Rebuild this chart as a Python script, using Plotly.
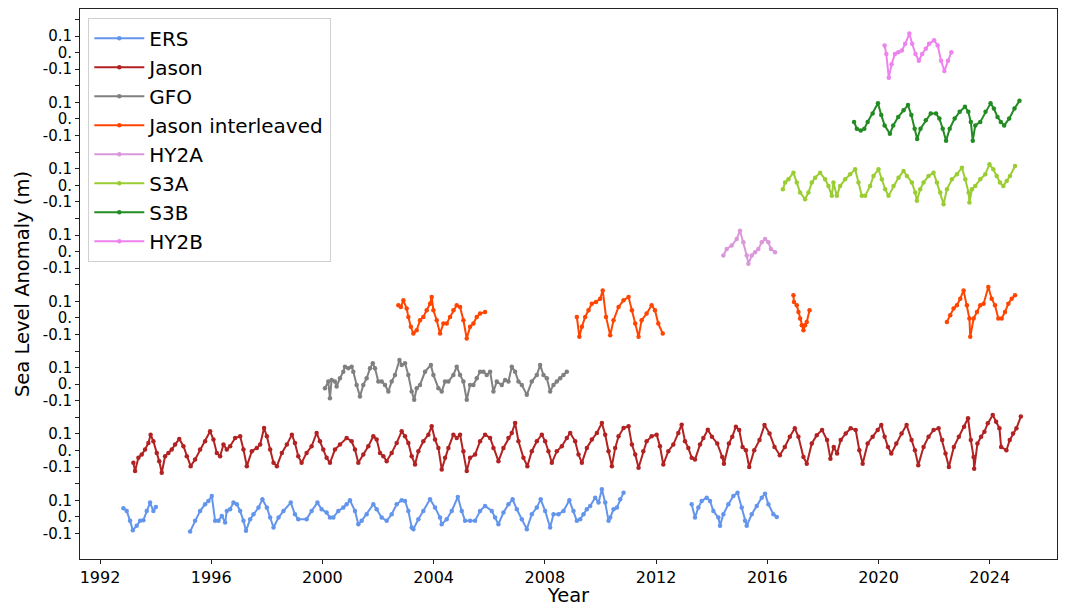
import plotly.graph_objects as go

# ---- data: (decimal year, sea level anomaly in m); None marks a data gap ----
ers = [(1992.84,0.052),(1992.96,0.036),(1993.08,-0.024),(1993.18,-0.080),(1993.32,-0.054),(1993.44,-0.024),(1993.56,-0.020),(1993.68,0.036),(1993.80,0.086),(1993.92,0.036),(1994.01,0.060),
       None,
       (1995.24,-0.088),(1995.42,-0.024),(1995.60,0.036),(1995.78,0.076),(1995.90,0.096),(1996.02,0.126),(1996.14,-0.024),(1996.26,-0.024),(1996.38,0.006),(1996.50,-0.034),(1996.56,0.036),(1996.68,0.046),(1996.80,0.086),(1996.92,0.076),(1997.04,0.036),(1997.16,-0.024),(1997.25,-0.084),(1997.40,-0.014),(1997.52,0.016),(1997.70,0.056),(1997.84,0.106),(1998.00,0.056),(1998.12,-0.004),(1998.24,-0.064),(1998.42,-0.004),(1998.60,0.036),(1998.86,0.086),(1999.01,0.016),(1999.13,-0.014),(1999.43,-0.014),(1999.61,0.036),(1999.82,0.086),(1999.97,0.046),(2000.15,0.026),(2000.27,-0.004),(2000.39,-0.004),(2000.57,0.036),(2000.75,0.056),(2000.87,0.076),(2000.99,0.100),(2001.17,0.036),(2001.29,-0.044),(2001.41,-0.024),(2001.59,0.016),(2001.83,0.076),(2001.95,0.046),(2002.13,-0.004),(2002.31,-0.024),(2002.49,0.016),(2002.67,0.076),(2002.85,0.100),(2002.97,0.096),(2003.09,0.036),(2003.21,-0.064),(2003.27,-0.074),(2003.45,-0.014),(2003.63,0.036),(2003.87,0.106),(2004.05,0.056),(2004.23,-0.004),(2004.29,-0.044),(2004.47,-0.014),(2004.65,0.036),(2004.87,0.120),(2005.01,0.036),(2005.13,-0.024),(2005.31,-0.024),(2005.49,-0.024),(2005.67,0.036),(2005.85,0.066),(2006.09,0.036),(2006.21,-0.004),(2006.33,-0.044),(2006.51,0.026),(2006.69,0.076),(2006.84,0.106),(2006.99,0.046),(2007.17,-0.014),(2007.35,-0.074),(2007.53,0.016),(2007.71,0.056),(2007.85,0.106),(2008.01,0.036),(2008.19,-0.064),(2008.31,0.016),(2008.49,0.016),(2008.67,0.036),(2008.88,0.100),(2009.03,0.036),(2009.15,-0.024),(2009.27,-0.014),(2009.39,0.016),(2009.51,0.046),(2009.63,0.066),(2009.81,0.116),(2009.93,0.086),(2010.05,0.166),(2010.17,0.086),(2010.29,-0.024),(2010.35,-0.004),(2010.47,0.046),(2010.59,0.056),(2010.71,0.106),(2010.83,0.146),
       None,
       (2013.28,0.076),(2013.40,-0.004),(2013.52,0.056),(2013.64,0.096),(2013.82,0.116),(2013.94,0.096),(2014.06,0.036),(2014.24,-0.004),(2014.30,-0.054),(2014.42,0.016),(2014.60,0.076),(2014.78,0.126),(2014.93,0.146),(2015.08,0.056),(2015.20,-0.024),(2015.26,-0.054),(2015.44,0.016),(2015.62,0.066),(2015.80,0.116),(2015.92,0.140),(2016.04,0.076),(2016.22,0.016),(2016.34,0.000)]

jason = [(1993.20,-0.074),(1993.26,-0.124),(1993.38,-0.044),(1993.50,-0.024),(1993.62,0.006),(1993.74,0.046),(1993.82,0.096),(1993.92,0.056),(1994.04,-0.014),(1994.13,-0.064),(1994.22,-0.134),(1994.34,-0.034),(1994.46,-0.014),(1994.58,0.006),(1994.70,0.036),(1994.85,0.070),(1995.00,0.026),(1995.12,-0.034),(1995.26,-0.094),(1995.42,-0.054),(1995.60,0.006),(1995.78,0.056),(1995.96,0.116),(1996.08,0.066),(1996.20,-0.014),(1996.32,-0.034),(1996.44,0.036),(1996.56,0.006),(1996.68,0.026),(1996.86,0.076),(1997.04,0.086),(1997.16,0.006),(1997.28,-0.094),(1997.46,-0.004),(1997.64,0.016),(1997.76,0.036),(1997.90,0.136),(1998.00,0.086),(1998.12,0.006),(1998.24,-0.074),(1998.36,-0.094),(1998.54,-0.014),(1998.72,0.036),(1998.90,0.096),(1999.01,0.046),(1999.13,-0.034),(1999.25,-0.074),(1999.43,-0.014),(1999.61,0.026),(1999.79,0.106),(1999.91,0.056),(2000.03,0.006),(2000.15,-0.044),(2000.27,-0.074),(2000.45,0.006),(2000.63,0.036),(2000.87,0.076),(2001.05,0.056),(2001.17,0.006),(2001.29,-0.074),(2001.47,-0.024),(2001.65,0.026),(2001.83,0.086),(2001.95,0.066),(2002.07,-0.014),(2002.19,-0.034),(2002.31,-0.064),(2002.49,-0.014),(2002.67,0.046),(2002.85,0.116),(2002.97,0.086),(2003.09,0.046),(2003.21,-0.034),(2003.33,-0.084),
         (2003.45,-0.004),(2003.63,0.056),(2003.81,0.096),(2003.93,0.146),(2004.05,0.066),(2004.17,0.016),(2004.29,-0.114),(2004.41,-0.044),(2004.53,0.016),(2004.71,0.096),(2004.83,0.076),(2004.95,0.096),(2005.07,-0.004),(2005.19,-0.124),(2005.31,-0.044),(2005.49,-0.024),(2005.67,0.056),(2005.85,0.096),(2006.03,0.076),(2006.15,0.016),(2006.33,-0.064),(2006.51,0.016),(2006.69,0.076),(2006.81,0.106),(2006.93,0.166),(2007.05,0.056),(2007.23,-0.044),(2007.37,-0.094),(2007.53,-0.004),(2007.71,0.056),(2007.89,0.096),(2008.01,0.056),(2008.13,-0.004),(2008.25,-0.074),(2008.43,-0.004),(2008.61,0.026),(2008.79,0.076),(2008.91,0.106),(2009.09,0.056),(2009.21,-0.024),(2009.33,-0.074),(2009.51,0.016),(2009.69,0.066),(2009.87,0.106),(2010.05,0.166),(2010.17,0.096),(2010.29,-0.004),(2010.41,-0.094),(2010.53,0.016),(2010.65,0.086),(2010.83,0.136),(2011.01,0.146),(2011.13,0.036),(2011.25,-0.024),(2011.37,-0.104),(2011.54,-0.004),(2011.66,0.056),(2011.84,0.086),(2012.02,0.096),(2012.14,0.026),(2012.26,-0.084),(2012.44,-0.004),(2012.62,0.036),(2012.80,0.106),(2012.92,0.156),(2013.04,0.056),(2013.16,0.016),(2013.28,-0.044),(2013.40,-0.054),(2013.58,0.036),(2013.70,0.076),(2013.86,0.126),
         (2014.01,0.083),(2014.20,0.043),(2014.38,-0.039),(2014.44,-0.079),(2014.62,0.043),(2014.74,0.083),(2014.87,0.144),(2014.99,0.124),(2015.11,0.022),(2015.23,0.002),(2015.35,-0.099),(2015.53,0.002),(2015.72,0.063),(2015.90,0.154),(2016.08,0.103),(2016.26,0.022),(2016.45,-0.028),(2016.63,0.022),(2016.81,0.083),(2016.99,0.134),(2017.12,0.083),(2017.30,-0.039),(2017.42,-0.079),(2017.60,0.043),(2017.78,0.093),(2017.97,0.124),(2018.15,0.063),(2018.27,-0.049),(2018.39,0.022),(2018.51,-0.018),(2018.64,0.063),(2018.82,0.103),(2019.00,0.134),(2019.18,0.124),(2019.31,0.002),(2019.43,-0.079),(2019.61,0.043),(2019.79,0.083),(2019.97,0.124),(2020.10,0.154),(2020.22,0.083),(2020.34,0.022),(2020.46,-0.018),(2020.64,0.043),(2020.83,0.103),(2021.01,0.154),(2021.19,0.063),(2021.31,0.002),(2021.43,-0.089),(2021.62,0.022),(2021.80,0.083),(2021.98,0.124),(2022.16,0.134),(2022.29,0.063),(2022.41,-0.018),(2022.53,-0.099),(2022.71,0.022),(2022.89,0.083),(2023.08,0.144),(2023.22,0.195),(2023.32,0.063),(2023.42,-0.039),(2023.44,-0.110),(2023.56,0.043),(2023.69,0.083),(2023.81,0.114),(2023.93,0.164),(2024.11,0.215),(2024.23,0.174),(2024.35,0.134),(2024.41,0.022),(2024.60,0.002),(2024.72,0.063),(2024.84,0.103),(2024.96,0.134),(2025.12,0.205)]

gfo = [(2000.09,-0.024),(2000.21,0.016),(2000.27,-0.084),(2000.33,0.026),(2000.45,0.016),(2000.51,-0.014),(2000.63,0.036),(2000.75,0.076),(2000.81,0.106),(2000.93,0.096),(2001.05,0.106),(2001.11,0.076),(2001.23,-0.004),(2001.35,-0.074),(2001.47,-0.004),(2001.59,0.036),(2001.71,0.096),(2001.81,0.126),(2001.89,0.096),(2002.01,0.016),(2002.13,0.016),(2002.25,-0.004),(2002.37,-0.044),(2002.49,0.016),(2002.61,0.056),(2002.77,0.146),(2002.85,0.116),(2002.97,0.126),(2003.09,0.056),(2003.21,-0.044),(2003.30,-0.094),(2003.39,-0.024),(2003.51,-0.004),(2003.69,0.076),(2003.90,0.116),(2003.99,0.056),(2004.17,-0.024),(2004.29,-0.044),(2004.41,0.016),(2004.53,0.016),(2004.71,0.056),(2004.83,0.106),(2004.95,0.056),(2005.07,0.016),(2005.19,-0.094),(2005.31,-0.004),(2005.43,-0.004),(2005.55,0.036),(2005.67,0.076),(2005.79,0.076),(2005.91,0.056),(2006.03,0.076),(2006.15,-0.044),(2006.27,0.016),(2006.45,-0.004),(2006.57,0.026),(2006.69,0.016),(2006.81,0.106),(2006.93,0.076),(2007.05,0.016),(2007.17,-0.004),(2007.35,-0.064),(2007.53,0.016),(2007.71,0.056),(2007.83,0.116),(2007.95,0.056),(2008.07,0.036),(2008.19,-0.044),(2008.31,-0.004),(2008.43,0.016),(2008.55,0.036),(2008.67,0.056),(2008.79,0.076)]

jason_interleaved = [(2002.73,0.076),(2002.82,0.066),(2002.91,0.106),(2003.03,0.056),(2003.09,0.006),(2003.18,-0.054),(2003.27,-0.094),(2003.39,-0.074),(2003.51,-0.014),(2003.63,0.006),(2003.75,0.046),(2003.87,0.086),(2003.93,0.126),(2003.99,0.046),(2004.11,-0.014),(2004.23,-0.094),(2004.35,-0.034),(2004.47,-0.034),(2004.59,0.006),(2004.71,0.046),(2004.83,0.076),(2004.95,0.066),(2005.07,-0.014),(2005.19,-0.124),(2005.31,-0.054),(2005.43,-0.034),(2005.55,0.006),(2005.67,0.026),(2005.85,0.036),
                     None,
                     (2009.15,0.006),(2009.24,-0.114),(2009.33,-0.054),(2009.45,0.006),(2009.57,0.046),(2009.69,0.086),(2009.84,0.096),(2009.99,0.116),(2010.08,0.166),(2010.20,0.006),(2010.35,-0.104),(2010.47,-0.014),(2010.65,0.066),(2010.83,0.106),(2011.01,0.126),(2011.13,0.046),(2011.25,-0.034),(2011.37,-0.114),(2011.48,-0.014),(2011.66,0.026),(2011.84,0.076),(2011.96,0.046),(2012.08,-0.034),(2012.24,-0.094),
                     None,
                     (2016.94,0.136),(2016.96,0.096),(2017.06,0.076),(2017.12,0.036),(2017.18,-0.004),(2017.24,-0.044),(2017.30,-0.074),(2017.36,-0.044),(2017.42,-0.024),(2017.52,0.046),
                     None,
                     (2022.46,-0.024),(2022.58,0.016),(2022.70,0.056),(2022.82,0.076),(2022.94,0.116),(2023.06,0.166),(2023.18,0.076),(2023.27,-0.004),(2023.30,-0.114),(2023.42,-0.004),(2023.54,0.036),(2023.66,0.076),(2023.78,0.086),(2023.95,0.186),(2024.07,0.116),(2024.19,0.076),(2024.31,-0.004),(2024.43,-0.004),(2024.55,0.036),(2024.67,0.086),(2024.79,0.116),(2024.91,0.136)]

hy2a = [(2014.42,-0.024),(2014.54,0.016),(2014.72,0.036),(2014.90,0.076),(2015.02,0.126),(2015.14,0.056),(2015.26,-0.024),(2015.32,-0.074),(2015.44,-0.024),(2015.56,-0.004),(2015.68,0.016),(2015.80,0.056),(2015.92,0.076),(2016.04,0.056),(2016.13,0.016),(2016.28,-0.004)]

s3a = [(2016.56,-0.024),(2016.64,0.016),(2016.76,0.036),(2016.94,0.076),(2017.06,0.016),(2017.18,-0.044),(2017.36,-0.084),(2017.48,-0.044),(2017.60,0.016),(2017.72,0.046),(2017.90,0.076),(2018.08,0.036),(2018.20,-0.004),(2018.32,-0.064),(2018.38,0.016),(2018.50,-0.064),(2018.62,-0.004),(2018.80,0.036),(2018.98,0.066),(2019.16,0.096),(2019.28,0.016),(2019.40,-0.064),(2019.52,-0.064),(2019.70,-0.004),(2019.82,0.056),(2020.00,0.096),(2020.12,0.036),(2020.24,-0.024),(2020.36,-0.064),(2020.54,-0.004),(2020.72,0.046),(2020.90,0.086),(2021.02,0.056),(2021.20,0.016),(2021.32,-0.044),(2021.38,-0.094),(2021.50,-0.024),(2021.62,0.016),(2021.80,0.056),(2021.98,0.076),(2022.10,0.016),(2022.22,-0.044),(2022.34,-0.114),(2022.46,-0.024),(2022.64,0.036),(2022.82,0.066),(2023.00,0.106),(2023.12,0.036),(2023.24,-0.044),(2023.27,-0.104),(2023.36,-0.024),(2023.48,-0.004),(2023.66,0.036),(2023.84,0.066),(2023.99,0.126),(2024.13,0.096),(2024.25,0.056),(2024.37,0.016),(2024.49,-0.004),(2024.61,0.026),(2024.73,0.056),(2024.91,0.116)]

s3b = [(2019.12,-0.018),(2019.22,-0.059),(2019.36,-0.070),(2019.49,-0.059),(2019.61,-0.018),(2019.79,0.033),(2019.98,0.094),(2020.10,0.023),(2020.22,-0.039),(2020.41,-0.090),(2020.53,-0.039),(2020.71,0.012),(2020.90,0.053),(2021.06,0.084),(2021.18,0.023),(2021.30,-0.059),(2021.39,-0.121),(2021.51,-0.059),(2021.70,-0.008),(2021.88,0.033),(2022.07,0.033),(2022.19,0.002),(2022.31,-0.059),(2022.43,-0.131),(2022.56,-0.059),(2022.74,0.002),(2022.92,0.043),(2023.11,0.074),(2023.23,0.043),(2023.32,-0.018),(2023.39,-0.131),(2023.48,-0.039),(2023.66,-0.018),(2023.85,0.043),(2024.03,0.094),(2024.15,0.063),(2024.28,0.012),(2024.40,-0.018),(2024.52,-0.039),(2024.70,0.002),(2024.89,0.063),(2025.07,0.109)]

hy2b = [(2020.22,0.043),(2020.28,-0.008),(2020.37,-0.152),(2020.47,-0.070),(2020.59,-0.008),(2020.71,0.002),(2020.84,0.012),(2020.96,0.053),(2021.11,0.115),(2021.21,0.053),(2021.33,-0.008),(2021.45,-0.049),(2021.57,-0.008),(2021.70,0.023),(2021.82,0.053),(2022.00,0.074),(2022.13,0.043),(2022.25,-0.049),(2022.37,-0.111),(2022.50,-0.049),(2022.62,0.002)]

names = ["ERS", "Jason", "GFO", "Jason interleaved", "HY2A", "S3A", "S3B", "HY2B"]
datasets = [ers, jason, gfo, jason_interleaved, hy2a, s3a, s3b, hy2b]
year_ticks = [1992, 1996, 2000, 2004, 2008, 2012, 2016, 2020, 2024]
level_ticks = [-0.1, 0.0, 0.1, 0.2]
level_labels = ["-0.1", "0.", "0.1", ""]

# ---- styling ----
colors = ["#6495ED", "#B22222", "#808080", "#FF4500", "#DA98DA", "#9ACD32", "#228B22", "#EE82EE"]
step = 0.4  # vertical offset between stacked missions

fig = go.Figure()
for k, (name, data, col) in enumerate(zip(names, datasets, colors)):
    xs = [p[0] if p is not None else None for p in data]
    ys = [p[1] + k * step if p is not None else None for p in data]
    fig.add_trace(go.Scatter(
        x=xs, y=ys, name=name, mode="lines+markers",
        line=dict(color=col, width=2), marker=dict(color=col, size=4.5),
        connectgaps=False, legendgroup=name,
    ))

tickvals, ticktext = [], []
for k in range(len(names)):
    for v, t in zip(level_ticks, level_labels):
        tickvals.append(round(k * step + v, 3))
        ticktext.append(t)

font = "DejaVu Sans"
fig.update_layout(
    width=1067, height=607,
    margin=dict(l=80, r=10, t=9, b=48),
    paper_bgcolor="white", plot_bgcolor="white",
    font=dict(family=font, size=16, color="black"),
    showlegend=True,
    legend=dict(x=0.0085, y=0.984, xanchor="left", yanchor="top",
                bgcolor="rgba(255,255,255,0.85)", bordercolor="#d0d0d0", borderwidth=1,
                font=dict(family=font, size=20, color="black"),
                itemwidth=50, tracegroupgap=0),
    xaxis=dict(range=[1991.28, 2026.42], tickvals=year_ticks,
               ticktext=[str(y) for y in year_ticks],
               showgrid=False, zeroline=False, showline=True, mirror=True,
               linecolor="#222", linewidth=1, ticks="outside", ticklen=4,
               tickcolor="#222", tickfont=dict(size=16), automargin=False,
               title=dict(text="Year", font=dict(size=19.5), standoff=2)),
    yaxis=dict(range=[-0.254, 3.063], tickvals=tickvals, ticktext=ticktext,
               showgrid=False, zeroline=False, showline=True, mirror=True,
               linecolor="#222", linewidth=1, ticks="outside", ticklen=4,
               tickcolor="#222", tickfont=dict(size=15), automargin=False,
               title=dict(text="Sea Level Anomaly (m)", font=dict(size=19.5), standoff=7)),
)

fig.write_html("out.html", config={"displayModeBar": False},
               post_script="document.body.style.margin='0';")
